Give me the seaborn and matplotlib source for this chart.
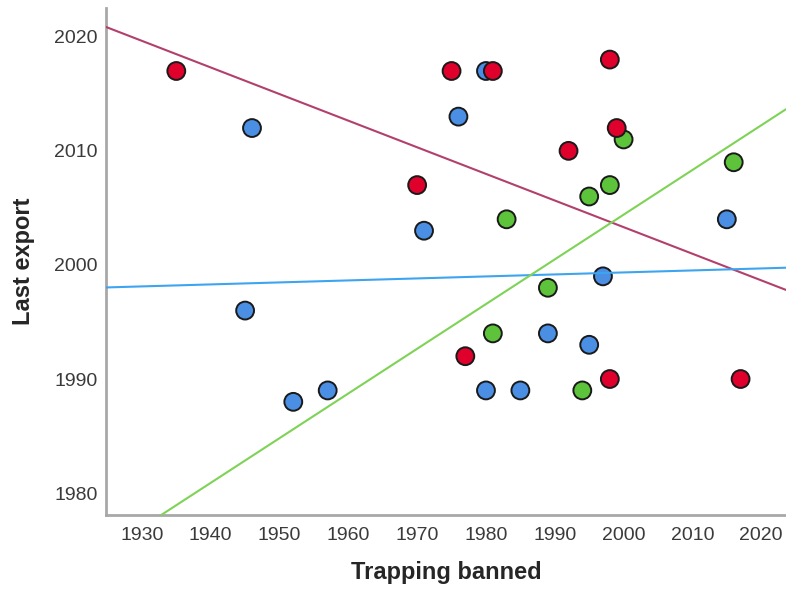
import matplotlib
matplotlib.use("Agg")
import matplotlib.pyplot as plt
import seaborn as sns
import pandas as pd

# valores (año de prohibición, última exportación)
red_banned = [1935, 1970, 1975, 1981, 1977, 1992, 1998, 1999, 1998, 2017]
red_export = [2017, 2007, 2017, 2017, 1992, 2010, 2018, 2012, 1990, 1990]

blue_banned = [1946, 1945, 1952, 1957, 1971, 1976, 1980, 1980, 1985, 1989, 1995, 1997, 2015]
blue_export = [2012, 1996, 1988, 1989, 2003, 2013, 2017, 1989, 1989, 1994, 1993, 1999, 2004]

green_banned = [1983, 1981, 1989, 1994, 1995, 1998, 2000, 2016]
green_export = [2004, 1994, 1998, 1989, 2006, 2007, 2011, 2009]

groups = ["Blue", "Green", "Red"]
point_colors = {"Red": "#E0002C", "Blue": "#4A8FE3", "Green": "#5CC33B"}
line_colors = {"Red": "#B2406C", "Blue": "#3DA5F0", "Green": "#7ED356"}

# orden de dibujo: azul, verde, rojo (rojo queda encima)
df = pd.concat([
    pd.DataFrame({"Trapping banned": blue_banned, "Last export": blue_export, "group": "Blue"}),
    pd.DataFrame({"Trapping banned": green_banned, "Last export": green_export, "group": "Green"}),
    pd.DataFrame({"Trapping banned": red_banned, "Last export": red_export, "group": "Red"}),
], ignore_index=True)

sns.set_style("white")
plt.rcParams["font.family"] = ["Liberation Sans", "DejaVu Sans"]

fig = plt.figure(figsize=(7.86, 5.89), dpi=100)
ax = fig.add_axes([0.135, 0.126, 0.865, 0.86])
ax.set_xlim(1924.8, 2023.6)
ax.set_ylim(1978.1, 2022.5)

sns.scatterplot(data=df, x="Trapping banned", y="Last export", hue="group",
                palette=point_colors, hue_order=groups, s=165,
                edgecolor="#1a1a1a", linewidth=1.4, legend=False, ax=ax, zorder=2)

# líneas de ajuste por grupo
for g in ["Red", "Blue", "Green"]:
    sub = df[df["group"] == g]
    sns.regplot(data=sub, x="Trapping banned", y="Last export", scatter=False,
                ci=None, truncate=False, color=line_colors[g],
                line_kws={"linewidth": 1.5, "zorder": 3}, ax=ax)

ax.set_xlim(1924.8, 2023.6)
ax.set_ylim(1978.1, 2022.5)
ax.set_xticks(range(1930, 2021, 10))
ax.set_yticks(range(1980, 2021, 10))

for side in ["top", "right"]:
    ax.spines[side].set_visible(False)
for side in ["left", "bottom"]:
    ax.spines[side].set_color("#A8A8A8")
    ax.spines[side].set_linewidth(2)

ax.tick_params(axis="both", length=0, labelsize=14, labelcolor="#3a3a3a")
ax.tick_params(axis="x", pad=9)
ax.tick_params(axis="y", pad=6)

ax.set_xlabel("Trapping banned", fontsize=17, fontweight="bold", labelpad=12)
ax.set_ylabel("Last export", fontsize=17, fontweight="bold", labelpad=14)

fig.savefig("out.png", dpi=100)
plt.close(fig)
